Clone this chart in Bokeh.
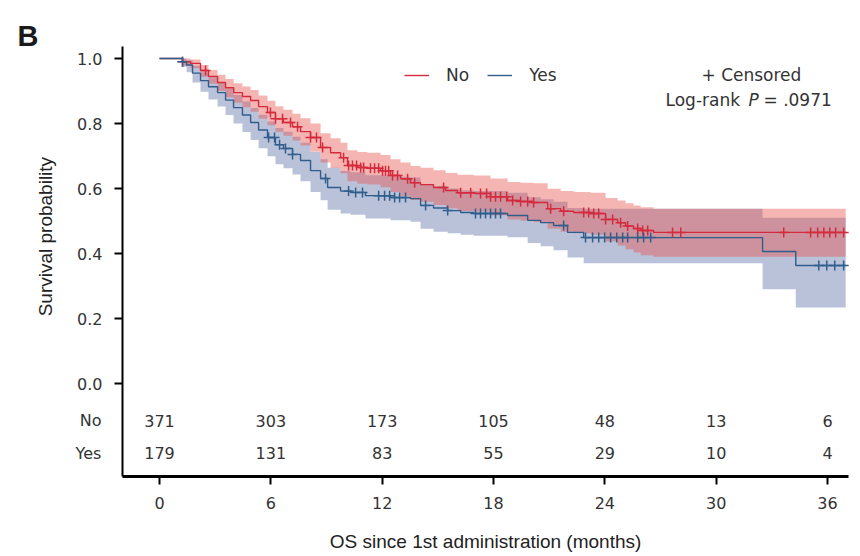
import numpy as np
from bokeh.plotting import figure
from bokeh.models import (Range1d, FixedTicker, Label, Legend, LegendItem,
                          PrintfTickFormatter)
from bokeh.embed import file_html
from bokeh.resources import INLINE
from bokeh.core.properties import value

# ---------------- data ----------------
no_t = [0.00, 1.24, 1.67, 2.21, 2.64, 3.13, 3.56, 4.00, 4.47, 4.91, 5.34, 5.82,
        6.25, 6.68, 7.17, 7.60, 8.14, 8.68, 9.22, 9.76, 10.13, 10.67, 11.21,
        11.91, 12.45, 12.99, 13.53, 14.07, 14.77, 15.42, 16.06, 16.93, 17.84,
        18.76, 19.46, 20.16, 20.92, 21.62, 22.32, 23.23, 24.04, 24.69, 25.12,
        25.55, 25.93, 26.63, 36.98]
no_s = [1.000, 0.990, 0.985, 0.963, 0.945, 0.926, 0.910, 0.895, 0.883, 0.871,
        0.852, 0.834, 0.815, 0.803, 0.790, 0.775, 0.757, 0.726, 0.710, 0.695,
        0.671, 0.665, 0.662, 0.655, 0.640, 0.630, 0.618, 0.612, 0.603, 0.594,
        0.587, 0.585, 0.575, 0.563, 0.560, 0.557, 0.538, 0.530, 0.526, 0.523,
        0.505, 0.495, 0.485, 0.477, 0.471, 0.465, 0.465]
no_lo = [1.000, 0.978, 0.970, 0.944, 0.922, 0.900, 0.881, 0.864, 0.850, 0.836,
         0.815, 0.795, 0.775, 0.762, 0.748, 0.732, 0.713, 0.680, 0.663, 0.647,
         0.622, 0.615, 0.612, 0.604, 0.589, 0.578, 0.565, 0.559, 0.549, 0.539,
         0.531, 0.529, 0.518, 0.505, 0.501, 0.497, 0.476, 0.467, 0.462, 0.458,
         0.437, 0.425, 0.413, 0.403, 0.395, 0.390, 0.390]
no_hi = [1.000, 1.000, 0.997, 0.980, 0.965, 0.950, 0.937, 0.924, 0.914, 0.903,
         0.886, 0.870, 0.853, 0.842, 0.830, 0.816, 0.800, 0.770, 0.755, 0.741,
         0.718, 0.712, 0.710, 0.703, 0.690, 0.680, 0.669, 0.664, 0.656, 0.648,
         0.642, 0.640, 0.631, 0.620, 0.618, 0.616, 0.599, 0.592, 0.589, 0.587,
         0.571, 0.563, 0.555, 0.548, 0.542, 0.538, 0.538]

yes_t = [0.00, 1.24, 1.46, 1.78, 2.21, 2.64, 3.13, 3.56, 3.99, 4.47, 4.91, 5.34,
         5.82, 6.25, 6.68, 7.17, 7.60, 8.14, 8.68, 9.06, 9.76, 10.30, 11.10,
         12.45, 13.53, 14.07, 14.77, 15.53, 16.23, 16.93, 18.76, 19.84, 20.54,
         21.24, 21.99, 22.86, 32.50, 34.29, 36.98]
yes_s = [1.000, 0.990, 0.980, 0.955, 0.932, 0.913, 0.895, 0.872, 0.849, 0.826,
         0.803, 0.780, 0.757, 0.735, 0.723, 0.705, 0.686, 0.655, 0.631, 0.603,
         0.592, 0.588, 0.578, 0.572, 0.569, 0.548, 0.540, 0.532, 0.526, 0.523,
         0.517, 0.502, 0.495, 0.486, 0.465, 0.449, 0.406, 0.363, 0.363]
yes_lo = [1.000, 0.975, 0.958, 0.926, 0.898, 0.874, 0.852, 0.826, 0.800, 0.774,
          0.749, 0.724, 0.699, 0.675, 0.662, 0.643, 0.622, 0.589, 0.564, 0.535,
          0.523, 0.519, 0.508, 0.502, 0.498, 0.476, 0.467, 0.462, 0.458, 0.455,
          0.450, 0.432, 0.422, 0.410, 0.388, 0.370, 0.290, 0.234, 0.234]
yes_hi = [1.000, 1.000, 0.995, 0.978, 0.958, 0.943, 0.928, 0.908, 0.888, 0.868,
          0.848, 0.827, 0.806, 0.786, 0.775, 0.759, 0.741, 0.712, 0.690, 0.664,
          0.654, 0.650, 0.641, 0.636, 0.634, 0.614, 0.607, 0.600, 0.595, 0.592,
          0.587, 0.573, 0.567, 0.559, 0.540, 0.538, 0.510, 0.510, 0.510]

no_censor = [1.24, 2.48, 5.98, 6.25, 6.63, 7.06, 7.44, 8.14, 8.46, 8.79, 9.92,
             10.19, 10.40, 10.62, 10.84, 11.00, 11.37, 11.59, 11.81, 12.02,
             12.18, 12.35, 12.56, 12.83, 13.37, 13.75, 15.31, 16.23, 16.77,
             17.30, 17.63, 17.84, 18.11, 18.38, 18.71, 19.03, 19.46, 19.84,
             20.16, 21.08, 21.78, 22.86, 23.13, 23.40, 23.67, 24.04, 24.42,
             24.85, 25.23, 25.77, 26.04, 26.31, 27.65, 28.09, 33.64, 35.09,
             35.47, 35.80, 36.12, 36.44, 36.87]
yes_censor = [1.24, 5.88, 6.20, 6.47, 6.79, 7.17, 8.95, 10.19, 10.57, 10.94,
              11.81, 12.13, 12.40, 12.67, 12.94, 13.26, 14.34, 15.53, 17.03,
              17.30, 17.57, 17.84, 18.11, 18.38, 21.78, 22.96, 23.34, 23.67,
              23.99, 24.31, 24.64, 24.96, 25.23, 25.77, 26.09, 26.47, 35.53,
              35.96, 36.39, 36.87]

risk_months = [0, 6, 12, 18, 24, 30, 36]
risk_no = [371, 303, 173, 105, 48, 13, 6]
risk_yes = [179, 131, 83, 55, 29, 10, 4]
y_ticks = [0.0, 0.2, 0.4, 0.6, 0.8, 1.0]
x_ticks = [0, 6, 12, 18, 24, 30, 36]

# ---------------- styling ----------------
RED = "#d42a3c"
BLUE = "#2f5d8c"
RED_BAND = "#e8504a"
BLUE_BAND = "#7585b5"
TXT = "#333333"
FONT = "DejaVu Sans"
TITLE_FONT = "Liberation Sans"

# plotting area (data units) and the full canvas extent around it
X0, X1 = -1.995, 37.14
Y0, Y1 = -0.286, 1.037
ROW_NO = -0.114
ROW_YES = -0.215


def step_values(t, s, pts):
    idx = np.searchsorted(np.asarray(t), np.asarray(pts), side="right") - 1
    return list(np.asarray(s)[idx])


p = figure(width=860, height=556, output_backend="svg", toolbar_location=None,
           title=None,
           x_range=Range1d(-8.569, 37.778), y_range=Range1d(-0.5323, 1.1785),
           min_border=0, min_border_left=0, min_border_right=0,
           min_border_top=0, min_border_bottom=0)
p.outline_line_color = None
p.grid.visible = False
p.background_fill_color = "white"
p.border_fill_color = "white"

# confidence bands
p.varea_step(x=yes_t, y1=yes_lo, y2=yes_hi, step_mode="after",
             fill_color=BLUE_BAND, fill_alpha=0.5)
p.varea_step(x=no_t, y1=no_lo, y2=no_hi, step_mode="after",
             fill_color=RED_BAND, fill_alpha=0.42)

# survival curves
r_no = p.step(x=no_t, y=no_s, mode="after", line_color=RED, line_width=1.4)
r_yes = p.step(x=yes_t, y=yes_s, mode="after", line_color=BLUE, line_width=1.4)

# censor marks
p.scatter(x=no_censor, y=step_values(no_t, no_s, no_censor), marker="cross",
          size=10, line_color=RED, line_width=1.5)
p.scatter(x=yes_censor, y=step_values(yes_t, yes_s, yes_censor), marker="cross",
          size=10, line_color=BLUE, line_width=1.5)

# numbers at risk
p.text(x=risk_months, y=[ROW_NO] * len(risk_months), text=[str(v) for v in risk_no],
       text_font=value(FONT), text_font_size="16px", text_align="center",
       text_baseline="middle", text_color=TXT)
p.text(x=risk_months, y=[ROW_YES] * len(risk_months), text=[str(v) for v in risk_yes],
       text_font=value(FONT), text_font_size="16px", text_align="center",
       text_baseline="middle", text_color=TXT)
for lab, yy in (("No", ROW_NO), ("Yes", ROW_YES)):
    p.add_layout(Label(x=-3.13, y=yy, text=lab, text_align="right",
                       text_baseline="middle", text_font=FONT,
                       text_font_size="16px", text_color=TXT))

# axes, pinned to the plotting area
for ax in (p.xaxis[0], p.yaxis[0]):
    ax.axis_line_color = "black"
    ax.major_tick_line_color = "black"
    ax.major_tick_line_width = 2
    ax.major_tick_in = 0
    ax.major_tick_out = 8
    ax.minor_tick_line_color = None
    ax.major_label_text_font = FONT
    ax.major_label_text_font_size = "16px"
    ax.major_label_text_color = TXT

p.xaxis.ticker = FixedTicker(ticks=x_ticks)
p.yaxis.ticker = FixedTicker(ticks=y_ticks)
p.yaxis.formatter = PrintfTickFormatter(format="%.1f")
p.yaxis.fixed_location = X0
p.xaxis.fixed_location = Y0
p.yaxis.bounds = (Y0, Y1)
p.xaxis.bounds = (X0, X1)
p.xaxis.axis_line_width = 3
p.yaxis.axis_line_width = 2
p.xaxis.major_label_standoff = 13
p.yaxis.major_label_standoff = 12

# axis titles
p.add_layout(Label(x=(X0 + X1) / 2, y=-0.486,
                   text="OS since 1st administration (months)",
                   text_align="center", text_baseline="middle",
                   text_font=TITLE_FONT, text_font_size="19px",
                   text_color="#222222"))
p.add_layout(Label(x=-6.14, y=0.452, text="Survival probability",
                   angle=np.pi / 2, text_align="center", text_baseline="middle",
                   text_font=TITLE_FONT, text_font_size="19px",
                   text_color="#222222"))

# legend
legend = Legend(items=[LegendItem(label="No", renderers=[r_no]),
                       LegendItem(label="Yes", renderers=[r_yes])],
                location=(404, 471), orientation="horizontal",
                border_line_color=None, background_fill_alpha=0,
                label_text_font=FONT, label_text_font_size="17px",
                label_text_color=TXT, glyph_width=25, label_standoff=17,
                spacing=18, padding=8)
p.add_layout(legend, "center")

# annotations
p.add_layout(Label(x=31.90, y=0.948, text="+ Censored", text_align="center",
                   text_baseline="middle", text_font=FONT, text_font_size="17px",
                   text_color=TXT))
p.add_layout(Label(x=27.27, y=0.871, text="Log-rank", text_align="left",
                   text_baseline="middle", text_font=FONT, text_font_size="17px",
                   text_color=TXT))
p.add_layout(Label(x=31.74, y=0.871, text="P", text_align="left",
                   text_baseline="middle", text_font=FONT, text_font_size="17px",
                   text_font_style="italic", text_color=TXT))
p.add_layout(Label(x=32.55, y=0.871, text="= .0971", text_align="left",
                   text_baseline="middle", text_font=FONT, text_font_size="17px",
                   text_color=TXT))

# panel letter
p.add_layout(Label(x=-7.65, y=1.068, text="B", text_align="left",
                   text_baseline="alphabetic", text_font="Liberation Sans",
                   text_font_size="29px", text_font_style="bold",
                   text_color="#1a1a1a"))

open("out.html", "w").write(file_html(p, INLINE))
